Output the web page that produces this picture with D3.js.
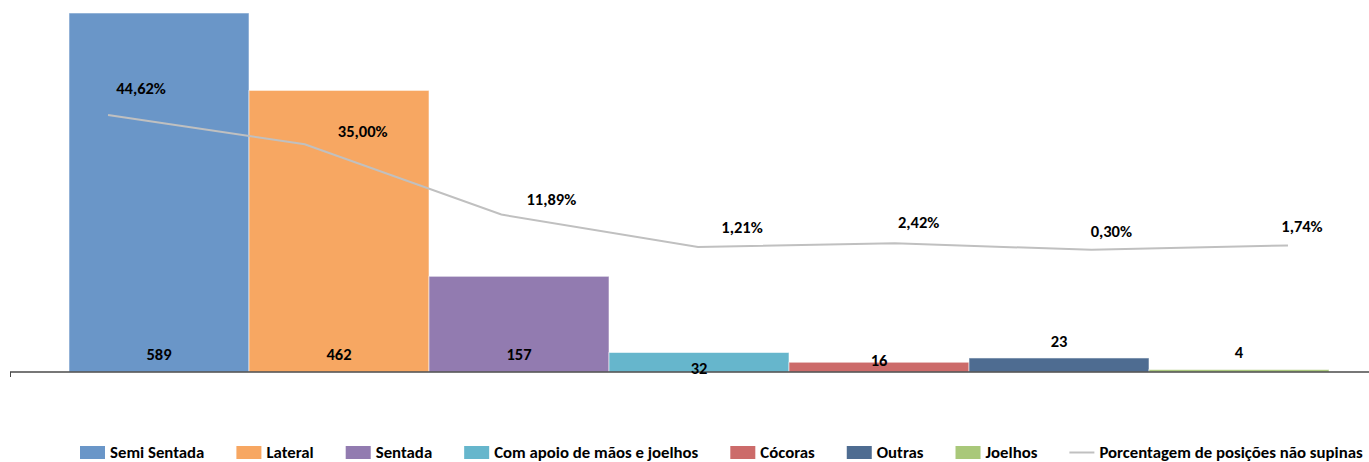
<!DOCTYPE html>
<html>
<head>
<meta charset="utf-8">
<script src="https://cdn.jsdelivr.net/npm/d3@7"></script>
<style>
  html, body { margin: 0; padding: 0; background: #ffffff; }
  svg { display: block; }
  text { font-family: Carlito, "Liberation Sans Narrow", "Open Sans", sans-serif; font-weight: bold; fill: #000; }
</style>
</head>
<body>
<svg id="chart" width="1369" height="462"></svg>
<script>
// Birth positions: counts and share of non-supine positions
const categories = ["Semi Sentada", "Lateral", "Sentada", "Com apoio de mãos e joelhos", "Cócoras", "Outras", "Joelhos"];
const counts = [589, 462, 157, 32, 16, 23, 4];
const percentages = [44.62, 35.00, 11.89, 1.21, 2.42, 0.30, 1.74];
const percentLabels = ["44,62%", "35,00%", "11,89%", "1,21%", "2,42%", "0,30%", "1,74%"];
const lineName = "Porcentagem de posições não supinas";
const colors = ["#6a96c8", "#f7a762", "#927bb0", "#66b6cc", "#cc6b6a", "#4e6c91", "#a9c87a"];

const svg = d3.select("#chart");
const W = 1369, H = 462;
const baseY = 372;

// Primary scales: the columns
const x = d3.scaleBand().domain(categories).range([69, 1329]).padding(0);
const y = d3.scaleLinear().domain([0, 600]).range([baseY, 6.3]);

// Secondary scales: the percentage line
const x2 = d3.scaleBand().domain(categories).range([9.7, 1386.3]).padding(0);
const y2 = d3.scaleLinear().domain([0, 50]).range([250.7, 98.65]);

// Columns
svg.append("g").selectAll("rect")
  .data(categories)
  .join("rect")
  .attr("x", d => x(d))
  .attr("y", (d, i) => y(counts[i]))
  .attr("width", x.bandwidth())
  .attr("height", (d, i) => baseY - y(counts[i]))
  .attr("fill", (d, i) => colors[i])
  .attr("stroke", "#ffffff")
  .attr("stroke-opacity", 0.55)
  .attr("stroke-width", 1);

// Category axis (labels hidden)
const axis = svg.append("g").attr("transform", `translate(0,${baseY})`);
axis.append("line").attr("x1", 10).attr("x2", W).attr("y1", 0).attr("y2", 0)
  .attr("stroke", "#4a4a4a").attr("stroke-width", 1.5);
axis.append("line").attr("x1", 10.5).attr("x2", 10.5).attr("y1", 0).attr("y2", 5)
  .attr("stroke", "#4a4a4a").attr("stroke-width", 1);

// Count labels, placed near the column base
const countDy = [-18, -18, -18, -4, -12, -31, -20];
svg.append("g").selectAll("text")
  .data(categories)
  .join("text")
  .attr("x", d => x(d) + x.bandwidth() / 2)
  .attr("y", (d, i) => baseY + countDy[i])
  .attr("text-anchor", "middle")
  .attr("dominant-baseline", "central")
  .attr("font-size", 16.5)
  .text((d, i) => counts[i]);

// Percentage line
const line = d3.line()
  .x((d, i) => x2(categories[i]) + x2.bandwidth() / 2)
  .y(d => y2(d));
svg.append("path")
  .datum(percentages)
  .attr("d", line)
  .attr("fill", "none")
  .attr("stroke", "#c0c0c0")
  .attr("stroke-width", 2);

// Percentage labels
const pctDx = [33, 58, 50, 44, 24, 20, 14];
const pctDy = [-27, -13, -16, -20, -21, -19, -19];
svg.append("g").selectAll("text")
  .data(percentages)
  .join("text")
  .attr("x", (d, i) => x2(categories[i]) + x2.bandwidth() / 2 + pctDx[i])
  .attr("y", (d, i) => y2(d) + pctDy[i])
  .attr("text-anchor", "middle")
  .attr("dominant-baseline", "central")
  .attr("font-size", 16.5)
  .text((d, i) => percentLabels[i]);

// Legend
const legendItems = categories.map((c, i) => ({ name: c, color: colors[i], type: "rect" }))
  .concat([{ name: lineName, color: "#c0c0c0", type: "line" }]);
const legend = svg.append("g");
const legendY = 452;
const swW = 25, swGap = 5, itemGap = 32;
const items = legend.selectAll("g").data(legendItems).join("g");
items.each(function(d) {
  const g = d3.select(this);
  if (d.type === "rect") {
    g.append("rect").attr("x", 0).attr("y", legendY - 6).attr("width", swW).attr("height", 13).attr("fill", d.color);
  } else {
    g.append("line").attr("x1", 0).attr("x2", swW).attr("y1", legendY + 0.5).attr("y2", legendY + 0.5)
      .attr("stroke", d.color).attr("stroke-width", 2);
  }
  const t = g.append("text").attr("x", swW + swGap).attr("y", legendY)
    .attr("dominant-baseline", "central").attr("font-size", 16.8).text(d.name);
  d.w = swW + swGap + t.node().getComputedTextLength();
});
let cx = 80;
items.attr("transform", d => { const tx = cx; cx += d.w + itemGap; return `translate(${tx},0)`; });
</script>
</body>
</html>
